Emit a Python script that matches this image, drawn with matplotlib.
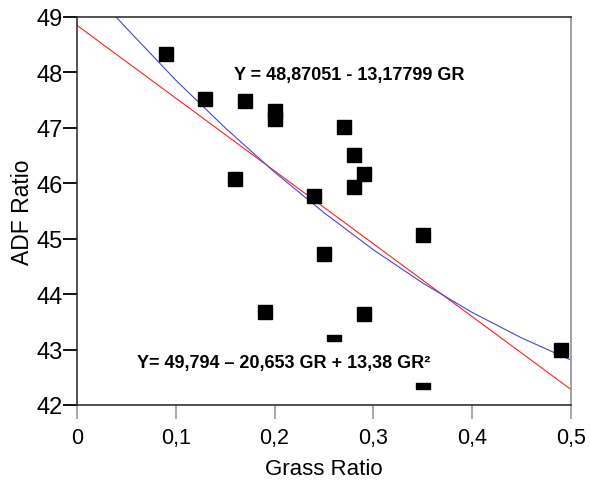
import matplotlib

matplotlib.use("Agg")
import matplotlib.pyplot as plt

plt.rcParams["font.family"] = ["Liberation Sans", "DejaVu Sans"]

# measured points (grass ratio vs ADF ratio)
grass = [0.09, 0.13, 0.17, 0.20, 0.20, 0.16, 0.27, 0.28, 0.29, 0.28,
         0.24, 0.35, 0.25, 0.19, 0.29, 0.49]
adf = [48.33, 47.52, 47.48, 47.30, 47.16, 46.08, 47.01, 46.51, 46.17, 45.93,
       45.77, 45.07, 44.72, 43.67, 43.64, 42.99]

# points drawn as flattened boxes in the original
grass_flat = [0.26, 0.35]
adf_flat = [43.21, 42.34]

# linear fit
lin_x = [0.0, 0.5]
lin_y = [48.85, 42.28]

# quadratic fit
quad_x = [0.035, 0.05, 0.10, 0.15, 0.20, 0.25, 0.30, 0.35, 0.40, 0.45, 0.50]
quad_y = [49.09, 48.80, 47.86, 47.00, 46.20, 45.47, 44.80, 44.20, 43.67, 43.21, 42.81]

eq_lin = "Y = 48,87051 - 13,17799 GR"
eq_quad = "Y= 49,794 \u2013 20,653 GR + 13,38 GR\u00b2"

xticks = [0, 0.1, 0.2, 0.3, 0.4, 0.5]
xticklabels = ["0", "0,1", "0,2", "0,3", "0,4", "0,5"]
yticks = [42, 43, 44, 45, 46, 47, 48, 49]

fig = plt.figure(figsize=(5.9, 4.85), dpi=100)
ax = fig.add_axes([77 / 590, 1 - 406 / 485, 494 / 590, 388 / 485])

ax.plot(lin_x, lin_y, color="#ff2020", lw=0.8, zorder=2)
ax.plot(quad_x, quad_y, color="#4646d8", lw=0.8, zorder=2)
ax.plot(grass, adf, "ks", ms=9.6, zorder=3)
box = [(-1, -0.4), (1, -0.4), (1, 0.4), (-1, 0.4), (-1, -0.4)]
ax.plot(grass_flat, adf_flat, "k", marker=box, ls="none", ms=10, zorder=3)

ax.text(0.159, 47.88, eq_lin, fontsize=13, fontweight="bold", ha="left", va="baseline")
ax.text(0.061, 42.68, eq_quad, fontsize=13, fontweight="bold", ha="left", va="baseline")

ax.set_xlim(0, 0.5)
ax.set_ylim(42, 49)
ax.set_xticks(xticks)
ax.set_xticklabels(xticklabels)
ax.set_yticks(yticks)
ax.tick_params(axis="x", direction="out", length=10, width=1.2, color="#999999",
               labelsize=15.5, pad=6)
ax.tick_params(axis="y", direction="out", length=10, width=1.3, color="black",
               labelsize=17, pad=0)

for side in ["left", "bottom", "top"]:
    ax.spines[side].set_color("#222222")
    ax.spines[side].set_linewidth(1.1)
ax.spines["right"].set_color("#999999")
ax.spines["right"].set_linewidth(1.3)

ax.set_xlabel("Grass Ratio", fontsize=16, labelpad=7)
ax.set_ylabel("ADF Ratio", fontsize=16.5, labelpad=2)

fig.savefig("out.png", dpi=100)
